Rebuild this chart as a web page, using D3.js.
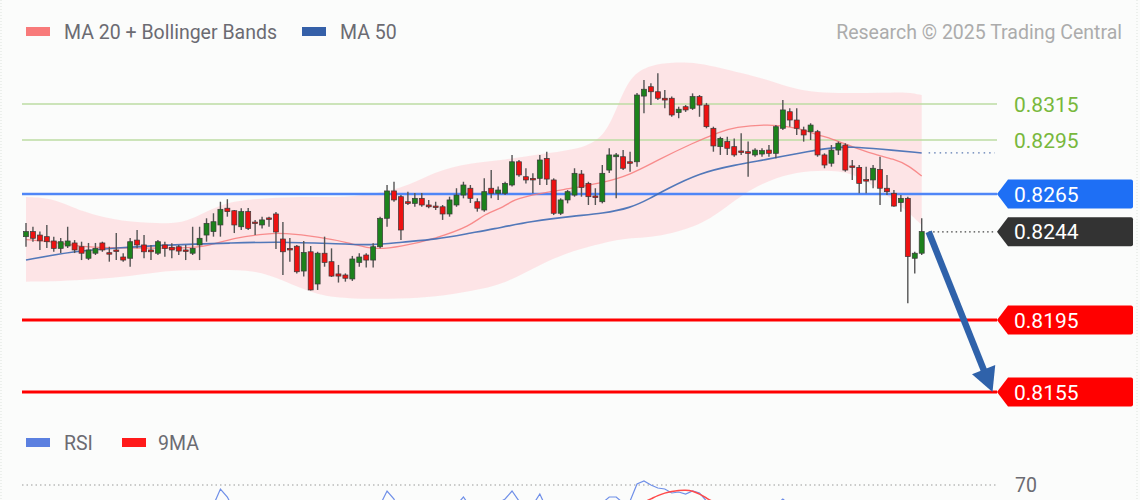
<!DOCTYPE html>
<html><head><meta charset="utf-8">
<script src="https://cdn.jsdelivr.net/npm/d3@7/dist/d3.min.js"></script>
<style>
html,body{margin:0;padding:0;background:#fbfcfb;}
svg{display:block;font-family:Roboto,"Liberation Sans",Arial,sans-serif;}
</style>
</head><body>
<svg id="c" width="1140" height="500"></svg>
<script>
// ---------- DATA ----------
const opens = [0.82413,0.82441,0.82422,0.82413,0.82389,0.82348,0.82361,0.82378,0.82357,0.82293,
0.82321,0.82378,0.82324,0.82339,0.82300,0.82293,0.82394,0.82367,0.82339,0.82321,
0.82367,0.82354,0.82357,0.82339,0.82321,0.82367,0.82422,0.82441,0.82478,0.82571,
0.82557,0.82468,0.82552,0.82494,0.82478,0.82517,0.82539,0.82400,0.82348,0.82360,
0.82222,0.82329,0.82150,0.82321,0.82274,0.82206,0.82200,0.82178,0.82270,0.82311,
0.82283,0.82357,0.82515,0.82667,0.82635,0.82607,0.82598,0.82626,0.82589,0.82583,
0.82579,0.82539,0.82589,0.82644,0.82682,0.82607,0.82561,0.82682,0.82654,0.82654,
0.82700,0.82829,0.82746,0.82737,0.82737,0.82848,0.82728,0.82543,0.82617,0.82644,
0.82761,0.82709,0.82639,0.82607,0.82783,0.82857,0.82857,0.82829,0.82829,0.83194,
0.83246,0.83218,0.83182,0.83182,0.83102,0.83135,0.83126,0.83191,0.83144,0.83015,
0.82913,0.82941,0.82913,0.82889,0.82885,0.82867,0.82872,0.82894,0.82876,0.83015,
0.83107,0.83061,0.83006,0.82996,0.82996,0.82867,0.82821,0.82894,0.82922,0.82806,
0.82798,0.82730,0.82728,0.82787,0.82682,0.82654,0.82602,0.82626,0.82293,0.82321];
const closes = [0.82441,0.82404,0.82390,0.82385,0.82348,0.82385,0.82389,0.82339,0.82321,0.82339,
0.82348,0.82339,0.82317,0.82333,0.82283,0.82385,0.82367,0.82329,0.82329,0.82385,
0.82348,0.82339,0.82333,0.82335,0.82348,0.82404,0.82487,0.82496,0.82565,0.82552,
0.82478,0.82552,0.82459,0.82489,0.82506,0.82513,0.82439,0.82329,0.82339,0.82218,
0.82325,0.82117,0.82321,0.82270,0.82194,0.82194,0.82182,0.82289,0.82300,0.82283,
0.82357,0.82515,0.82667,0.82617,0.82450,0.82598,0.82626,0.82589,0.82579,0.82576,
0.82539,0.82617,0.82644,0.82700,0.82626,0.82571,0.82663,0.82654,0.82672,0.82709,
0.82829,0.82756,0.82728,0.82728,0.82839,0.82733,0.82543,0.82617,0.82663,0.82765,
0.82686,0.82635,0.82630,0.82765,0.82867,0.82867,0.82793,0.82821,0.83200,0.83232,
0.83218,0.83182,0.83172,0.83089,0.83121,0.83117,0.83191,0.83144,0.83024,0.82917,
0.82959,0.82904,0.82867,0.82883,0.82876,0.82894,0.82891,0.82876,0.83024,0.83117,
0.83061,0.83015,0.82978,0.83033,0.82867,0.82811,0.82894,0.82932,0.82783,0.82800,
0.82709,0.82725,0.82793,0.82682,0.82663,0.82583,0.82626,0.82302,0.82321,0.82441];
const highs = [0.82489,0.82468,0.82441,0.82478,0.82413,0.82406,0.82468,0.82394,0.82385,0.82378,
0.82378,0.82385,0.82357,0.82433,0.82321,0.82406,0.82450,0.82422,0.82367,0.82394,
0.82385,0.82376,0.82367,0.82367,0.82468,0.82468,0.82515,0.82543,0.82607,0.82621,
0.82561,0.82571,0.82572,0.82506,0.82524,0.82524,0.82550,0.82494,0.82406,0.82367,
0.82389,0.82361,0.82329,0.82413,0.82348,0.82256,0.82209,0.82306,0.82321,0.82321,
0.82376,0.82524,0.82700,0.82718,0.82644,0.82663,0.82656,0.82656,0.82617,0.82607,
0.82589,0.82635,0.82682,0.82718,0.82700,0.82626,0.82737,0.82783,0.82691,0.82718,
0.82867,0.82839,0.82793,0.82765,0.82867,0.82885,0.82737,0.82626,0.82672,0.82793,
0.82783,0.82718,0.82682,0.82811,0.82904,0.82878,0.82894,0.82885,0.83211,0.83283,
0.83265,0.83321,0.83228,0.83191,0.83135,0.83144,0.83209,0.83200,0.83156,0.83024,
0.82968,0.82968,0.82959,0.82987,0.82941,0.82904,0.82904,0.82922,0.83033,0.83172,
0.83126,0.83126,0.83024,0.83043,0.83006,0.82876,0.82922,0.82941,0.82932,0.82839,
0.82811,0.82802,0.82811,0.82857,0.82756,0.82672,0.82644,0.82635,0.82329,0.82515];
const lows = [0.82357,0.82385,0.82339,0.82350,0.82329,0.82322,0.82350,0.82322,0.82283,0.82283,
0.82311,0.82329,0.82274,0.82283,0.82274,0.82246,0.82348,0.82293,0.82283,0.82311,
0.82302,0.82293,0.82311,0.82283,0.82311,0.82283,0.82385,0.82413,0.82413,0.82524,
0.82433,0.82450,0.82450,0.82422,0.82459,0.82468,0.82344,0.82200,0.82274,0.82209,
0.82191,0.82114,0.82117,0.82246,0.82189,0.82158,0.82163,0.82167,0.82246,0.82241,
0.82241,0.82348,0.82468,0.82607,0.82394,0.82589,0.82579,0.82579,0.82571,0.82561,
0.82506,0.82524,0.82579,0.82626,0.82600,0.82552,0.82552,0.82626,0.82617,0.82644,
0.82691,0.82746,0.82709,0.82654,0.82700,0.82700,0.82533,0.82533,0.82598,0.82635,
0.82635,0.82589,0.82589,0.82598,0.82767,0.82626,0.82783,0.82774,0.82802,0.83098,
0.83144,0.83172,0.83126,0.83079,0.83071,0.83106,0.83117,0.83079,0.83015,0.82885,
0.82867,0.82867,0.82857,0.82867,0.82746,0.82857,0.82857,0.82857,0.82848,0.83006,
0.83024,0.82978,0.82941,0.82950,0.82857,0.82793,0.82802,0.82867,0.82774,0.82728,
0.82654,0.82654,0.82682,0.82589,0.82644,0.82579,0.82552,0.82043,0.82209,0.82311];

// moving averages (candle index, value)
const ma20Idx = [0,4,8,13,23,26,30,35,37,42,47,50,54,59,64,66,69,70,74,78,83,87,91,96,100,102,107,111,114,116,119,122,125,127,129];
const ma20Val = [0.82397,0.82383,0.82356,0.82350,0.82348,0.82357,0.82408,0.82431,0.82433,0.82413,0.82376,0.82339,0.82357,0.82403,0.82472,0.82539,0.82579,0.82617,0.82654,0.82678,0.82711,0.82756,0.82839,0.82933,0.82996,0.83022,0.83039,0.83020,0.82978,0.82958,0.82913,0.82872,0.82844,0.82811,0.82750];
const ma50Idx = [0,7,13,20,30,36,44,50,54,59,64,67,73,79,83,87,90,92,97,102,107,111,116,119,123,129];
const ma50Val = [0.82283,0.82333,0.82350,0.82367,0.82378,0.82385,0.82375,0.82364,0.82383,0.82397,0.82433,0.82453,0.82500,0.82528,0.82542,0.82571,0.82628,0.82672,0.82767,0.82811,0.82844,0.82875,0.82908,0.82913,0.82900,0.82878];
const bandIdx = [0,4,8,14,19,23,28,33,37,42,47,54,59,64,69,74,79,83,85,87,90,93,97,100,103,107,111,115,119,123,127,129];
const bandUpper = [0.82633,0.82628,0.82550,0.82494,0.82489,0.82483,0.82600,0.82622,0.82633,0.82633,0.82633,0.82672,0.82778,0.82822,0.82839,0.82872,0.82894,0.82950,0.83117,0.83311,0.83367,0.83383,0.83378,0.83350,0.83322,0.83283,0.83228,0.83211,0.83211,0.83211,0.83217,0.83200];
const bandLower = [0.82163,0.82165,0.82172,0.82189,0.82217,0.82228,0.82228,0.82228,0.82172,0.82083,0.82067,0.82067,0.82078,0.82110,0.82150,0.82260,0.82339,0.82375,0.82394,0.82405,0.82411,0.82430,0.82478,0.82550,0.82644,0.82728,0.82772,0.82783,0.82772,0.82672,0.82553,0.82478];

// levels
const supportResistance = [0.8315,0.8295,0.8265,0.8195,0.8155];
const levelLabels = ["0.8315","0.8295","0.8265","0.8195","0.8155"];
const levelKinds = ["res2","res1","pivot","sup1","sup2"];
const lastPrice = 0.8244;
const lastLabel = "0.8244";
const ma50Last = 0.82878;
const arrowFrom = [130, 0.8244];
const arrowTo = [139.2, 0.8155];

// RSI panel (only the top is visible)
const rsi = [52,48,46,45,42,46,47,43,41,45,47,44,42,43,40,50,47,44,44,49,
47,46,45,46,48,52,58,60,68,64,57,61,55,57,58,59,52,44,45,38,
45,36,45,43,39,39,38,46,47,46,51,60,67,63,52,59,60,57,56,55,
53,58,60,64,59,56,61,60,61,63,67,62,60,60,65.5,58,49,53,56,61,
57,54,54,61,64,64,61,62,70.5,72,70,68.5,68,66,66.5,65.5,67,66,62,57,
58,56,54,55,54,56,56,55,60,63,60,58,56,57,51,49,53,55,48,49,
45,46,49,45,44,41,43,32,34,42];
const rsiMA = [50,50,49,48,47,47,46,46,45,45,45,45,45,44,44,45,45,45,45,45,
46,46,46,46,46,47,48,50,52,54,55,56,57,58,58,58,57,56,54,52,
51,49,48,47,45,43,42,42,42,43,44,46,49,52,53,54,56,57,58,58,
57,57,57,58,58,58,58,59,59,60,60,61,61,61,61,61,60,59,58,57,
57,56,56,56,57,58,58,59,60,61.5,63,64.8,66,66.8,67.3,67.5,67,65.5,63.5,61.5,
60,58,57,56,56,56,56,56,56,57,57,57,57,56,55,54,54,53,52,51,
50,49,48,47,46,45,43,41,40,39];
const rsiLevel = 70;

// ---------- DRAW ----------
const svg = d3.select('#c');
const x = d3.scaleLinear().domain([0, 129]).range([26, 921.7]);
const y = d3.scaleLinear().domain([0.8155, 0.8265]).range([392, 194]);
const yR = d3.scaleLinear().domain([30, 70]).range([565, 485]);
const plotLeft = 22, plotRight = 997;
const FS = 19.5;

// faint frame
svg.append('line').attr('x1',1).attr('x2',1).attr('y1',0).attr('y2',500).attr('stroke','#dde3dd').attr('stroke-dasharray','1,2');
svg.append('line').attr('x1',1137).attr('x2',1137).attr('y1',0).attr('y2',500).attr('stroke','#dde3dd').attr('stroke-dasharray','1,2');

// legend
const lg = svg.append('g');
lg.append('rect').attr('x',26).attr('y',27).attr('width',24).attr('height',9).attr('fill','#f87a7a');
lg.append('text').attr('x',64).attr('y',38.5).text('MA 20 + Bollinger Bands').attr('font-size',FS).attr('fill','#6b6b72');
lg.append('rect').attr('x',302).attr('y',27).attr('width',24).attr('height',9).attr('fill','#3560a8');
lg.append('text').attr('x',340).attr('y',38.5).text('MA 50').attr('font-size',FS).attr('fill','#6b6b72');
svg.append('text').attr('x',1122).attr('y',38.5).attr('text-anchor','end').text('Research \u00a9 2025 Trading Central').attr('font-size',FS).attr('fill','#acacac');

// Bollinger band
const bandData = bandIdx.map((d,i)=>({i:d,u:bandUpper[i],l:bandLower[i]}));
svg.append('path').datum(bandData)
  .attr('d', d3.area().x(d=>x(d.i)).y0(d=>y(d.l)).y1(d=>y(d.u)).curve(d3.curveBasis))
  .attr('fill','#fde3e5').attr('opacity',0.95);

// levels
const lvColor = {res2:'#bcdca3',res1:'#bcdca3',pivot:'#4f86f7',sup1:'#ff0000',sup2:'#ff0000'};
const lvWidth = {res2:1.6,res1:1.6,pivot:2.4,sup1:3,sup2:3};
supportResistance.forEach((p,k)=>{
  svg.append('line').attr('x1',plotLeft).attr('x2',plotRight).attr('y1',y(p)).attr('y2',y(p))
    .attr('stroke',lvColor[levelKinds[k]]).attr('stroke-width',lvWidth[levelKinds[k]]);
});

// MA lines
const ma20 = ma20Idx.map((d,i)=>[d,ma20Val[i]]);
const ma50 = ma50Idx.map((d,i)=>[d,ma50Val[i]]);
const ln = d3.line().x(d=>x(d[0])).y(d=>y(d[1])).curve(d3.curveBasis);
svg.append('path').datum(ma20).attr('d',ln).attr('fill','none').attr('stroke','#f77b7b').attr('stroke-width',1.3).attr('opacity',0.85);
svg.append('path').datum(ma50).attr('d',ln).attr('fill','none').attr('stroke','#3f6cb4').attr('stroke-width',1.6).attr('opacity',0.9);

// candles
const candles = opens.map((o,i)=>({i,o,c:closes[i],h:highs[i],l:lows[i]}));
const cg = svg.append('g');
const bw = 5;
cg.selectAll('line.w').data(candles).join('line').attr('class','w')
  .attr('x1',d=>x(d.i)).attr('x2',d=>x(d.i)).attr('y1',d=>y(d.h)).attr('y2',d=>y(d.l))
  .attr('stroke','#545454').attr('stroke-width',1.4);
cg.selectAll('rect').data(candles).join('rect')
  .attr('x',d=>x(d.i)-bw/2).attr('width',bw)
  .attr('y',d=>y(Math.max(d.o,d.c)))
  .attr('height',d=>Math.max(1.5, Math.abs(y(d.o)-y(d.c))))
  .attr('fill',d=>d.c>=d.o?'#1c821c':'#ee1111')
  .attr('stroke','#3a3a3a').attr('stroke-width',0.7);

// dotted extensions
svg.append('line').attr('x1',x(130)).attr('x2',plotRight-2).attr('y1',y(ma50Last)).attr('y2',y(ma50Last))
  .attr('stroke','#5a78b0').attr('stroke-width',1.3).attr('stroke-dasharray','1.5,4');
svg.append('line').attr('x1',x(130)).attr('x2',plotRight-2).attr('y1',y(lastPrice)).attr('y2',y(lastPrice))
  .attr('stroke','#444').attr('stroke-width',1.3).attr('stroke-dasharray','1.5,3');

// labels & tags
function tag(p, txt, fill){
  const yc = y(p), h = 29, x0 = plotRight, x1 = 1133;
  svg.append('path').attr('d',`M${x0},${yc} L${x0+11},${yc-h/2} L${x1-2},${yc-h/2} Q${x1},${yc-h/2} ${x1},${yc-h/2+2} L${x1},${yc+h/2-2} Q${x1},${yc+h/2} ${x1-2},${yc+h/2} L${x0+11},${yc+h/2} Z`).attr('fill',fill);
  svg.append('text').attr('x',1014).attr('y',yc+7.5).text(txt).attr('font-size',21).attr('fill','#fff');
}
supportResistance.forEach((p,k)=>{
  const kind = levelKinds[k];
  if(kind==='res1'||kind==='res2'){
    svg.append('text').attr('x',1014).attr('y',y(p)+7.5).text(levelLabels[k]).attr('font-size',21).attr('fill','#78b83c');
  } else if(kind==='pivot'){
    tag(p, levelLabels[k], '#1e6ff5');
  } else {
    tag(p, levelLabels[k], '#ff0000');
  }
});
tag(lastPrice, lastLabel, '#333333');

// arrow
(function(){
  const sx = x(arrowFrom[0]), sy = y(arrowFrom[1]);
  const tx = x(arrowTo[0]), ty = y(arrowTo[1]);
  const dx = tx-sx, dy = ty-sy, L = Math.hypot(dx,dy), ux = dx/L, uy = dy/L;
  const hl = 24, hw = 12.5;
  const bx = tx-ux*hl, by = ty-uy*hl;
  svg.append('line').attr('x1',sx).attr('y1',sy).attr('x2',bx+ux*2).attr('y2',by+uy*2)
    .attr('stroke','#2f62aa').attr('stroke-width',6.5);
  svg.append('path').attr('d',`M${tx},${ty} L${bx-uy*hw},${by+ux*hw} L${bx+uy*hw},${by-ux*hw} Z`).attr('fill','#2f62aa');
})();

// RSI legend & panel
svg.append('rect').attr('x',26).attr('y',438).attr('width',24).attr('height',9).attr('fill','#5b80e0');
svg.append('text').attr('x',64).attr('y',449.5).text('RSI').attr('font-size',FS).attr('fill','#6b6b72');
svg.append('rect').attr('x',122).attr('y',438).attr('width',24).attr('height',9).attr('fill','#ff1a1a');
svg.append('text').attr('x',158).attr('y',449.5).text('9MA').attr('font-size',FS).attr('fill','#6b6b72');
svg.append('line').attr('x1',plotLeft).attr('x2',plotRight).attr('y1',yR(rsiLevel)).attr('y2',yR(rsiLevel))
  .attr('stroke','#9a9a9a').attr('stroke-width',1.2).attr('stroke-dasharray','1.5,3');
svg.append('text').attr('x',1015).attr('y',yR(rsiLevel)+7).text(String(rsiLevel)).attr('font-size',FS).attr('fill','#6b6b72');
const rl = d3.line().x((d,i)=>x(i)).y(d=>yR(d));
svg.append('path').datum(rsi).attr('d',rl).attr('fill','none').attr('stroke','#6f8fe8').attr('stroke-width',1.2);
svg.append('path').datum(rsiMA).attr('d',rl.curve(d3.curveBasis)).attr('fill','none').attr('stroke','#ff4a4a').attr('stroke-width',1.5);
</script>
</body></html>
